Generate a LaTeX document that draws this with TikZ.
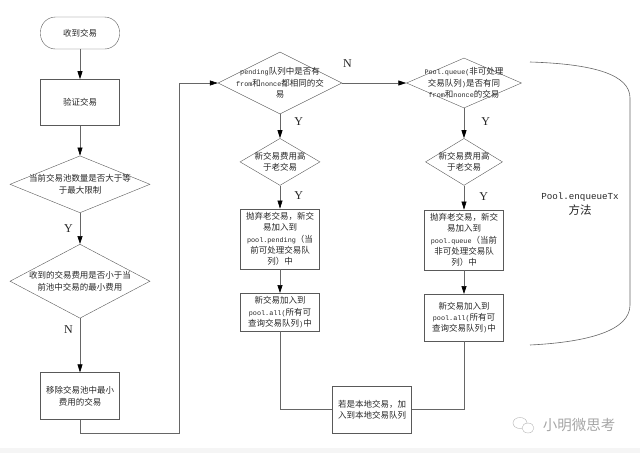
\documentclass[tikz,border=0pt]{standalone}
\usepackage{fontspec}
\setmainfont{Liberation Serif}
\setmonofont{Liberation Mono}[Scale=0.8]
\newfontfamily\cjk{Noto Sans CJK SC}
\usetikzlibrary{positioning}
\usetikzlibrary{shapes.geometric, arrows.meta}

\begin{document}
\begin{tikzpicture}[x=1pt, y=-1pt, >={Triangle[length=8pt,width=5pt,color=black]},
  every node/.style={text=black!85, font=\fontsize{8.5}{11.3}\cjk, inner sep=1pt},
  every label/.style={align=center, text=black!85, font=\fontsize{8.5}{11.3}\cjk},
  startbox/.style={rectangle, draw=black!65, rounded corners=15pt, minimum width=79pt, minimum height=32pt},
  procbox/.style={rectangle, draw=black!65, align=center, minimum width=79pt},
  decbox/.style={diamond, draw=black!65, inner sep=0pt},
  yn/.style={font=\fontsize{12}{12}\rmfamily},
  conn/.style={draw=black!60, line width=0.6pt}]

\useasboundingbox (0,0) rectangle (640,453);
\fill[black!4] (0,448) rectangle (640,453);

% Left column
\node[startbox] (recv) at (80,33) {收到交易};
\node[procbox, minimum height=46pt, below=30pt of recv] (verify) {验证交易};
\node[decbox, minimum width=140pt, minimum height=57pt, below=30pt of verify,
  label={center:当前交易池数量是否大于等\\于最大限制}] (poolfull) {};
\node[decbox, minimum width=140pt, minimum height=74pt, below=31pt of poolfull,
  label={center:收到的交易费用是否小于当\\前池中交易的最小费用}] (feelow) {};
\node[procbox, minimum height=47pt, below=54pt of feelow] (remove) {移除交易池中最小\\费用的交易};

% Middle column (pending)
\node[decbox, minimum width=124pt, minimum height=62pt,
  label={center:\texttt{pending}队列中是否有\\\texttt{from}和\texttt{nonce}都相同的交\\易}] (pendq) at (280,83) {};
\node[decbox, minimum width=80pt, minimum height=47pt, below=24pt of pendq,
  label={center:新交易费用高\\于老交易}] (pendfee) {};
\node[procbox, minimum height=60pt, below=23pt of pendfee] (pendrep) {抛弃老交易，新交\\易加入到\\\texttt{pool.pending}（当\\前可处理交易队\\列）中};
\node[procbox, minimum height=38pt, below=24pt of pendrep] (pendall) {新交易加入到\\\texttt{pool.all(}所有可\\查询交易队列\texttt{)}中};

% Right column (queue)
\node[decbox, minimum width=115pt, minimum height=50pt,
  label={center:\texttt{Pool.queue(}非可处理\\交易队列\texttt{)}是否有同\\\texttt{from}和\texttt{nonce}的交易}] (queq) at (464,83) {};
\node[decbox, minimum width=77pt, minimum height=47pt, below=30pt of queq,
  label={center:新交易费用高\\于老交易}] (quefee) {};
\node[procbox, minimum height=60pt, below=24pt of quefee] (querep) {抛弃老交易，新交\\易加入到\\\texttt{pool.queue}（当前\\非可处理交易队\\列）中};
\node[procbox, minimum height=47pt, below=24pt of querep] (queall) {新交易加入到\\\texttt{pool.all(}所有可\\查询交易队列\texttt{)}中};

\node[procbox, minimum height=47pt] (local) at (372,409.5) {若是本地交易，加\\入到本地交易队列};

\node[font=\fontsize{11.5}{15}\cjk, align=center] (enq) at (580,204) {\texttt{Pool.enqueueTx}\\方法};
\node[text=black!35, font=\fontsize{14.5}{15}\cjk] (mark) at (579,425) {小明微思考};

% Arrows
\draw[conn, ->] (recv) -- (verify);
\draw[conn, ->] (verify) -- (poolfull);
\draw[conn, ->] (poolfull) -- node[yn, left=6pt] {Y} (feelow);
\draw[conn, ->] (feelow) -- node[yn, pos=0.2, left=6pt] {N} (remove);
\coordinate (back) at (179,433);
\draw[conn, ->] (remove) |- (back) |- (pendq);

\draw[conn, ->] (pendq) -- node[yn, pos=0.08, above=14pt] {N} (queq);
\draw[conn, ->] (pendq) -- node[yn, pos=0.3, right=13pt] {Y} (pendfee);
\draw[conn, ->] (pendfee) -- node[yn, pos=0.45, right=13pt] {Y} (pendrep);
\draw[conn, ->] (pendrep) -- (pendall);
\draw[conn] (pendall) |- (local);

\draw[conn, ->] (queq) -- node[yn, pos=0.45, right=16pt] {Y} (quefee);
\draw[conn, ->] (quefee) -- node[yn, pos=0.45, right=14pt] {Y} (querep);
\draw[conn, ->] (querep) -- (queall);
\draw[conn] (queall) |- (local);

% brace round the enqueue part
\draw[conn] (530,62) .. controls (595,64) and (630,75) .. (630,98) -- (630,305)
  .. controls (630,330) and (590,342) .. (530,345);

% watermark icon
\draw[black!30] (520,423) ellipse (7pt and 5.5pt);
\draw[black!30, fill=white] (528,428) ellipse (6pt and 5pt);

\end{tikzpicture}
\end{document}
